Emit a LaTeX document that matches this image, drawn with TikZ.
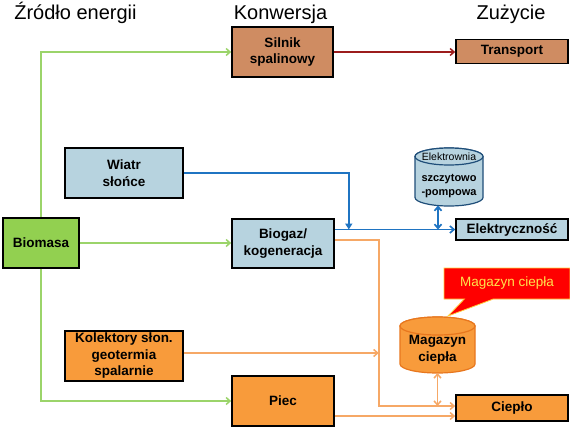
\documentclass[tikz,border=0pt]{standalone}
\usepackage{fontspec}
\setmainfont{Liberation Sans}
\usetikzlibrary{positioning,arrows.meta,shapes.geometric,shapes.callouts}
\definecolor{enBrown}{HTML}{CF8C62}
\definecolor{enBlue}{HTML}{B7D3DF}
\definecolor{enGreen}{HTML}{92D050}
\definecolor{enOrange}{HTML}{F89B3B}
\definecolor{enOrangeD}{HTML}{E8771E}
\definecolor{enLineG}{HTML}{9BD46A}
\definecolor{enLineB}{HTML}{1F74C2}
\definecolor{enLineO}{HTML}{F6A866}
\definecolor{enLineR}{HTML}{9C1C1C}
\definecolor{enCylB}{HTML}{1F4E79}
\definecolor{enYellow}{HTML}{FFE34D}

\begin{document}
\begin{tikzpicture}[x=1pt, y=-1pt,
  every node/.style={font=\fontsize{13.5}{16.5}\selectfont\bfseries},
  title/.style={font=\fontsize{20}{24}\selectfont, anchor=base},
  box/.style={rectangle, draw=black, line width=1.6pt, align=center, inner sep=0pt},
  tankB/.style={draw=enCylB, fill=enBlue, line width=1.2pt},
  tankO/.style={draw=enOrangeD, fill=enOrange, line width=1.2pt},
  arrG/.style={-{Straight Barb[length=4pt,width=7pt]}, line width=1.5pt, enLineG},
  arrR/.style={-{Straight Barb[length=4pt,width=7pt]}, line width=1.5pt, enLineR},
  arrB/.style={-{Straight Barb[length=4pt,width=7pt]}, line width=1.7pt, enLineB},
  arrBt/.style={-{Triangle[length=6pt,width=7pt]}, line width=1.7pt, enLineB},
  arrBd/.style={{Straight Barb[length=4pt,width=7pt]}-{Straight Barb[length=4pt,width=7pt]}, line width=1.7pt, enLineB},
  arrO/.style={-{Straight Barb[length=4pt,width=7pt]}, line width=1.5pt, enLineO},
  arrOd/.style={{Straight Barb[length=4pt,width=7pt]}-{Straight Barb[length=4pt,width=7pt]}, line width=1.5pt, enLineO}
]
  \useasboundingbox[fill=white] (0,0) rectangle (570,428);

  % column heads
  \node[title] (hsrc) at (75.5,20) {Źródło energii};
  \node[title] (hconv) at (280.5,20) {Konwersja};
  \node[title] (huse) at (511,20) {Zużycie};

  % boxes
  \node[box, fill=enBrown, minimum width=101pt, minimum height=50pt] (silnik) at (282.5,52) {Silnik\\spalinowy};
  \node[box, fill=enBrown, minimum width=112pt, minimum height=24pt] (transport) at (512,51.5) {Transport};
  \node[box, fill=enBlue, minimum width=118pt, minimum height=50pt] (wiatr) at (124,173) {Wiatr\\słońce};
  \node[box, fill=enGreen, minimum width=76pt, minimum height=50pt] (bio) at (41,243) {Biomasa};
  \node[box, fill=enBlue, minimum width=102pt, minimum height=49pt] (biogaz) at (283,243.5) {Biogaz/\\kogeneracja};
  \node[box, fill=enBlue, minimum width=112pt, minimum height=21pt] (elektr) at (512,229.5) {Elektryczność};
  \node[box, fill=enOrange, minimum width=118pt, minimum height=50pt] (kol) at (124,356) {Kolektory słon.\\geotermia\\spalarnie};
  \node[box, fill=enOrange, minimum width=102pt, minimum height=50pt] (piec) at (283,401) {Piec};
  \node[box, fill=enOrange, minimum width=112pt, minimum height=26pt] (cieplo) at (512,408) {Ciepło};

  % storages (drawn as tanks)
  \coordinate (elekT) at (449,156.5);
  \coordinate (elekB) at (449,197.5);
  \filldraw[tankB] (elekT) ++(-34,0) -- ++(0,41) arc[start angle=180, end angle=0, x radius=34, y radius=8.5]
    -- ++(0,-41) arc[start angle=0, end angle=-180, x radius=34, y radius=8.5] -- cycle;
  \filldraw[tankB] (elekT) ellipse[x radius=34, y radius=8.5];
  \node[font=\fontsize{10.5}{12}\selectfont] (elekcap) at (elekT) {Elektrownia};
  \node[align=center, font=\fontsize{11}{14}\selectfont\bfseries] (elektxt) at (449,186) {szczytowo\\-pompowa};

  \coordinate (magT) at (437.5,326);
  \coordinate (magB) at (437.5,364);
  \filldraw[tankO] (magT) ++(-37.5,0) -- ++(0,38) arc[start angle=180, end angle=0, x radius=37.5, y radius=9]
    -- ++(0,-38) arc[start angle=0, end angle=-180, x radius=37.5, y radius=9] -- cycle;
  \filldraw[tankO] (magT) ellipse[x radius=37.5, y radius=9];
  \node[align=center] (magtxt) at (437.5,350) {Magazyn\\ciepła};
  \coordinate (magtip) at (448,316);
  \node[rectangle callout, fill=red, draw=enYellow!80!orange, line width=0.8pt,
        minimum width=126pt, minimum height=31pt, text=enYellow,
        font=\fontsize{13.5}{16}\selectfont, callout pointer width=29pt,
        callout absolute pointer={(magtip)}] (note) at (507,283.5) {Magazyn ciepła};

  % helper points
  \path (biogaz.east |- elektr.west) ++(14,0) coordinate (bjoin);
  \path (elekB) ++(-11,8) coordinate (ebot);
  \path (magB) ++(0,9) coordinate (mbot);
  \coordinate (bout) at ([yshift=3.5pt]biogaz.east);
  \path (bout) ++(44,0) coordinate (obend);
  \coordinate (cin) at ([yshift=2pt]cieplo.west);
  \coordinate (kout) at ([yshift=3pt]kol.east);
  \coordinate (pout) at ([yshift=-15pt]piec.east);

  % biomass paths
  \draw[arrG] (bio.north) |- (silnik.west);
  \draw[arrG] (bio.east) -- (bio.east -| biogaz.west);
  \draw[arrG] (bio.south) |- (piec.west);
  \draw[arrR] (silnik.east) -- (silnik.east -| transport.west);

  % electricity
  \draw[arrB] (biogaz.east |- elektr.west) -- (elektr.west);
  \draw[arrBt] (wiatr.east) -| (bjoin);
  \draw[arrBd] (ebot) -- (ebot |- elektr.west);

  % heat
  \draw[arrO] (bout) -- (obend) |- (cin);
  \draw[arrO] (kout) -- (kout -| obend);
  \draw[arrO] (pout) -- (pout -| cieplo.west);
  \draw[arrOd] (mbot) -- (mbot |- cin);
\end{tikzpicture}
\end{document}
